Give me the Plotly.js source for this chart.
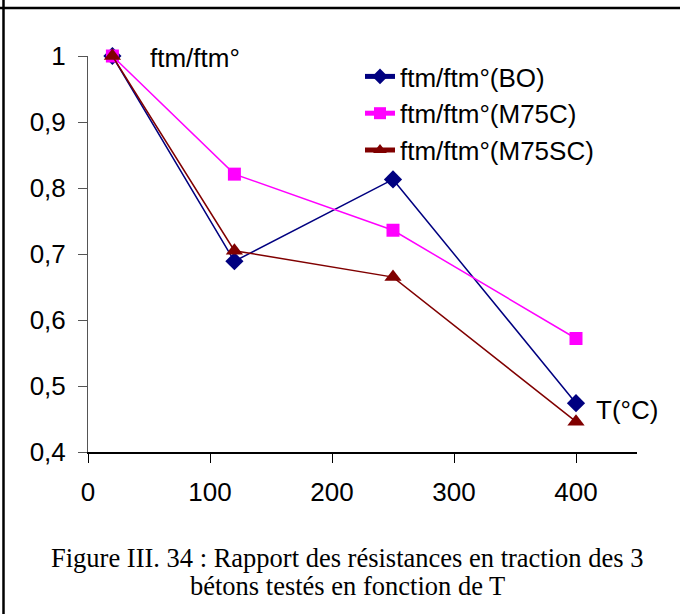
<!DOCTYPE html>
<html>
<head>
<meta charset="utf-8">
<script src="https://cdn.plot.ly/plotly-3.0.1.min.js"></script>
<style>html,body{margin:0;padding:0;background:#fff;}#chart{width:680px;height:614px;}</style>
</head>
<body>
<div id="chart"></div>
<script>
const temperatures = [20, 120, 250, 400];
const seriesNames = ["ftm/ftm°(BO)", "ftm/ftm°(M75C)", "ftm/ftm°(M75SC)"];
const ratioBO = [1.0, 0.689, 0.813, 0.474];
const ratioM75C = [1.0, 0.821, 0.736, 0.572];
const ratioM75SC = [1.0, 0.705, 0.665, 0.446];
const yTicks = [0.4, 0.5, 0.6, 0.7, 0.8, 0.9, 1];
const xTicks = [0, 100, 200, 300, 400];
const captionLines = ["Figure III. 34 : Rapport des résistances en traction des 3", "bétons testés en fonction de T"];

const L = 88, R = 637, T = 56, B = 452;
const px = v => (v - L) / (R - L);
const py = v => (B - v) / (B - T);

const traces = [
  {x: temperatures, y: ratioBO, name: seriesNames[0], mode: 'lines+markers', cliponaxis: false,
   line: {color: '#000080', width: 1.5}, marker: {symbol: 'diamond', size: 14, color: '#000080'}},
  {x: temperatures, y: ratioM75C, name: seriesNames[1], mode: 'lines+markers', cliponaxis: false,
   line: {color: '#FF00FF', width: 1.5}, marker: {symbol: 'square', size: 13, color: '#FF00FF'}},
  {x: temperatures, y: ratioM75SC, name: seriesNames[2], mode: 'lines+markers', cliponaxis: false,
   line: {color: '#800000', width: 1.5}, marker: {symbol: 'triangle-up', size: 15, color: '#800000'}}
];

const FS = 26;
const layout = {
  width: 680, height: 614,
  margin: {l: L, r: 680 - R, t: T, b: 614 - B, pad: 0},
  paper_bgcolor: '#fff', plot_bgcolor: '#fff',
  separators: ', ',
  font: {family: 'Liberation Sans, Arial, sans-serif', size: FS, color: '#000'},
  showlegend: true,
  legend: {x: px(360), y: py(53), xanchor: 'left', yanchor: 'top', bgcolor: 'rgba(0,0,0,0)',
           font: {size: FS}, tracegroupgap: 0, itemsizing: 'constant'},
  xaxis: {range: [0, 450], tickvals: xTicks, ticks: 'outside', ticklen: 9, tickcolor: '#000',
          showline: true, linecolor: '#000', linewidth: 1.5, showgrid: false, zeroline: false,
          fixedrange: true, automargin: false, tickfont: {size: FS}, ticklabelstandoff: 7},
  yaxis: {range: [0.4, 1], tickvals: yTicks, ticks: 'outside', ticklen: 9, tickcolor: '#555',
          showline: true, linecolor: '#555', linewidth: 1, showgrid: false, zeroline: false,
          fixedrange: true, automargin: false, tickfont: {size: FS}, ticklabelstandoff: 7},
  annotations: [
    {xref: 'paper', yref: 'paper', x: px(148), y: py(58), xanchor: 'left', yanchor: 'middle',
     text: 'ftm/ftm°', showarrow: false, font: {size: FS}},
    {xref: 'paper', yref: 'paper', x: px(594), y: py(410), xanchor: 'left', yanchor: 'middle',
     text: 'T(°C)', showarrow: false, font: {size: FS}},
    {xref: 'paper', yref: 'paper', x: px(347), y: py(558), xanchor: 'center', yanchor: 'middle',
     text: captionLines[0], showarrow: false,
     font: {family: 'Liberation Serif, Times New Roman, serif', size: 26.5}},
    {xref: 'paper', yref: 'paper', x: px(347), y: py(586), xanchor: 'center', yanchor: 'middle',
     text: captionLines[1], showarrow: false,
     font: {family: 'Liberation Serif, Times New Roman, serif', size: 26.5}}
  ],
  shapes: [
    {type: 'line', xref: 'paper', yref: 'paper', x0: px(0), x1: px(680), y0: py(8), y1: py(8),
     line: {color: '#000', width: 2.5}},
    {type: 'line', xref: 'paper', yref: 'paper', x0: px(3.5), x1: px(3.5), y0: py(0), y1: py(614),
     line: {color: '#000', width: 2.5}}
  ]
};

Plotly.newPlot('chart', traces, layout, {staticPlot: true, displayModeBar: false});
</script>
</body>
</html>
